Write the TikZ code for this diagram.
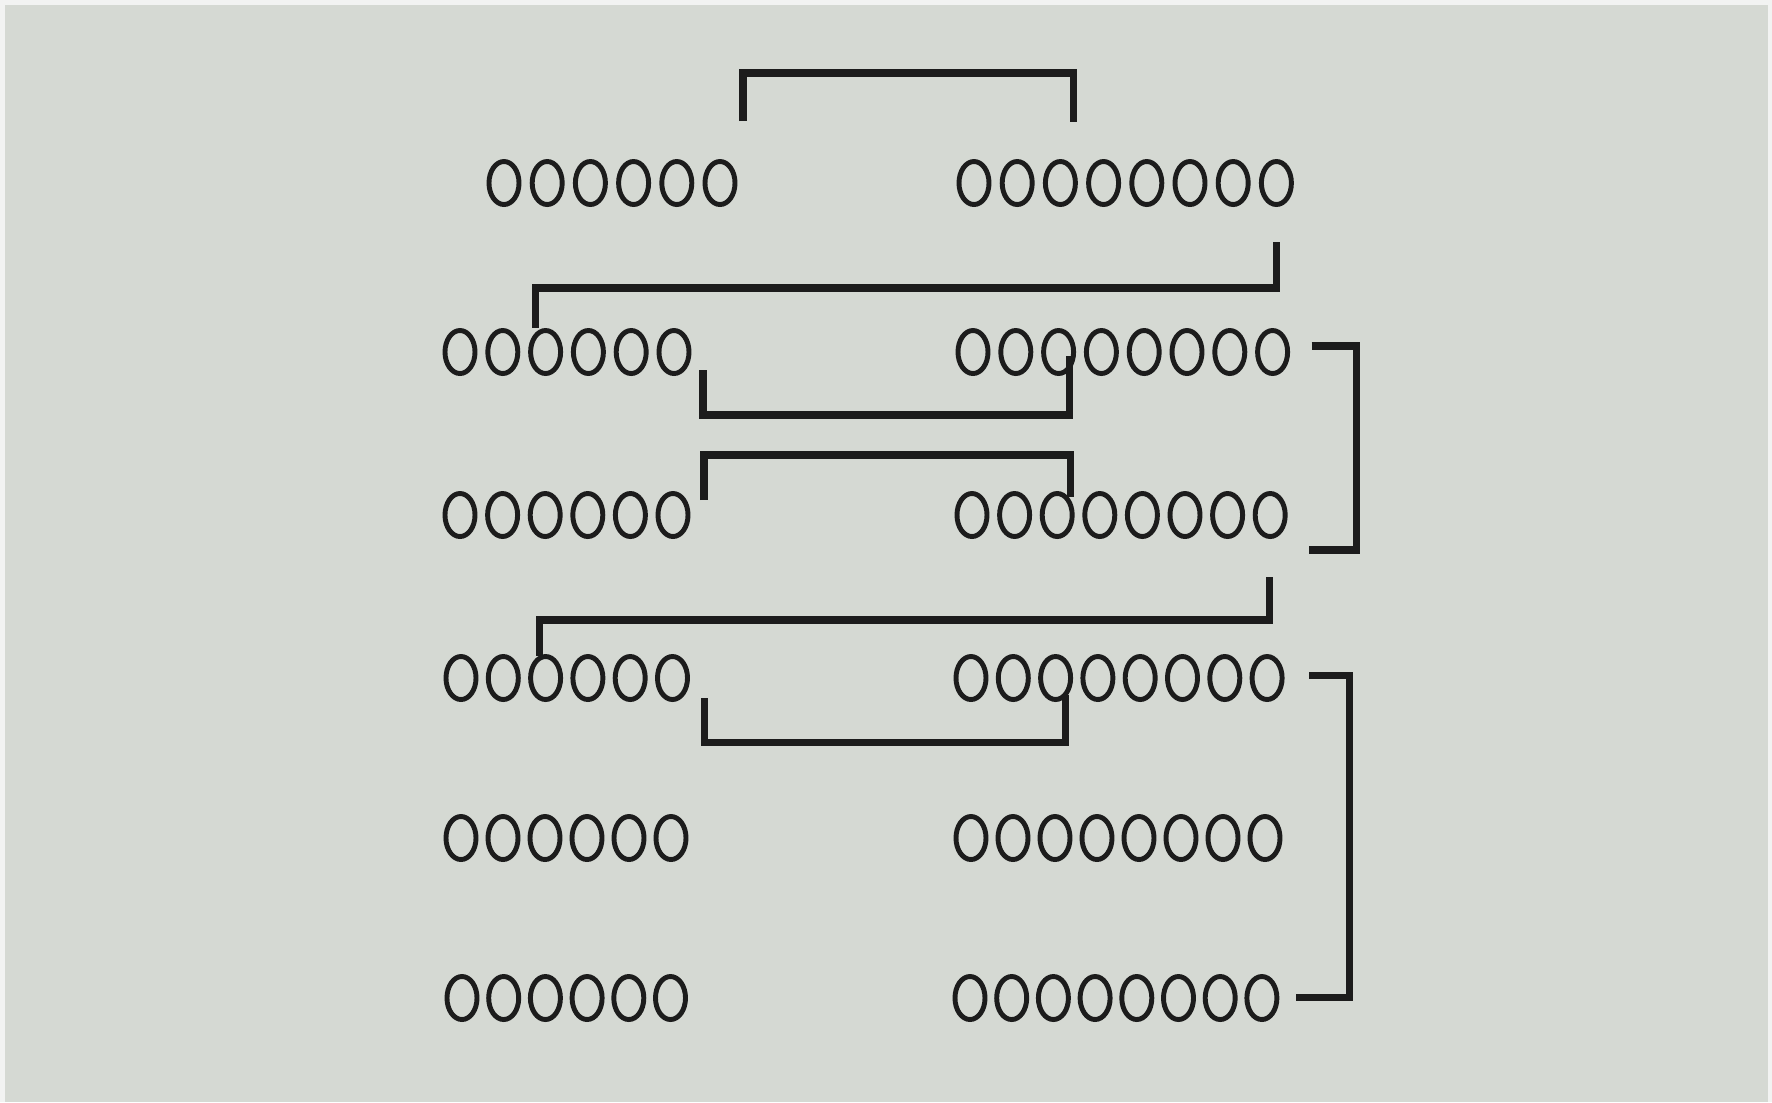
\documentclass[tikz,border=0pt]{standalone}
\usepackage{xcolor}
\usepackage{tikz}
\usetikzlibrary{shapes.geometric,calc}

\definecolor{paper}{RGB}{213,217,211}
\definecolor{rim}{RGB}{242,243,242}
\definecolor{ink}{RGB}{28,28,28}

\begin{document}
\begin{tikzpicture}[
  x=0.01cm, y=-0.01cm,
  syl/.style={ellipse, draw=ink, line width=1.4pt, minimum width=0.30cm,
    minimum height=0.43cm, inner sep=0pt},
  link/.style={draw=ink, line width=2pt}
]

% page
\fill[rim] (0,0) rectangle (1772,1102);
\fill[paper] (5,5) rectangle (1768,1102);
\useasboundingbox (0,0) rectangle (1772,1102);

% syllables: row / y / first left / first right / spacing
\foreach \r/\y/\lx/\rx/\d in {1/183/504/974/43.2, 2/352/460/973/42.8,
    3/515/460/972/42.6, 4/678/461/971/42.3, 5/838/461/971/42.0, 6/998/462/970/41.7} {
  \foreach \k in {1,...,6}
    \node[syl] (l\r-\k) at ({\lx+\d*(\k-1)}, \y) {};
  \foreach \k in {1,...,8}
    \node[syl] (r\r-\k) at ({\rx+\d*(\k-1)}, \y) {};
}

% rhyme links
\draw[link] ($(l1-6.center)+(23,-62)$) -- ++(0,-48) -| ($(r1-3.center)+(13,-61)$);
\draw[link] ($(r1-8.center)+(0,59)$) -- ++(0,46) -| ($(l2-3.center)+(-10,-24)$);
\draw[link] ($(l2-6.center)+(29,18)$) -- ++(0,45) -| ($(r2-3.center)+(11,4)$);
\draw[link] ($(l3-6.center)+(31,-15)$) -- ++(0,-45) -| ($(r3-3.center)+(13,-18)$);
\draw[link] ($(r2-8.center)+(39,-6)$) -- ++(45,0) |- ($(r3-8.center)+(39,35)$);
\draw[link] ($(r3-8.center)+(-1,62)$) -- ++(0,43) -| ($(l4-3.center)+(-6,-22)$);
\draw[link] ($(l4-6.center)+(32,20)$) -- ++(0,44) -| ($(r4-3.center)+(10,17)$);
\draw[link] ($(r4-8.center)+(42,-3)$) -- ++(40,0) |- ($(r6-8.center)+(34,-1)$);

\end{tikzpicture}
\end{document}
